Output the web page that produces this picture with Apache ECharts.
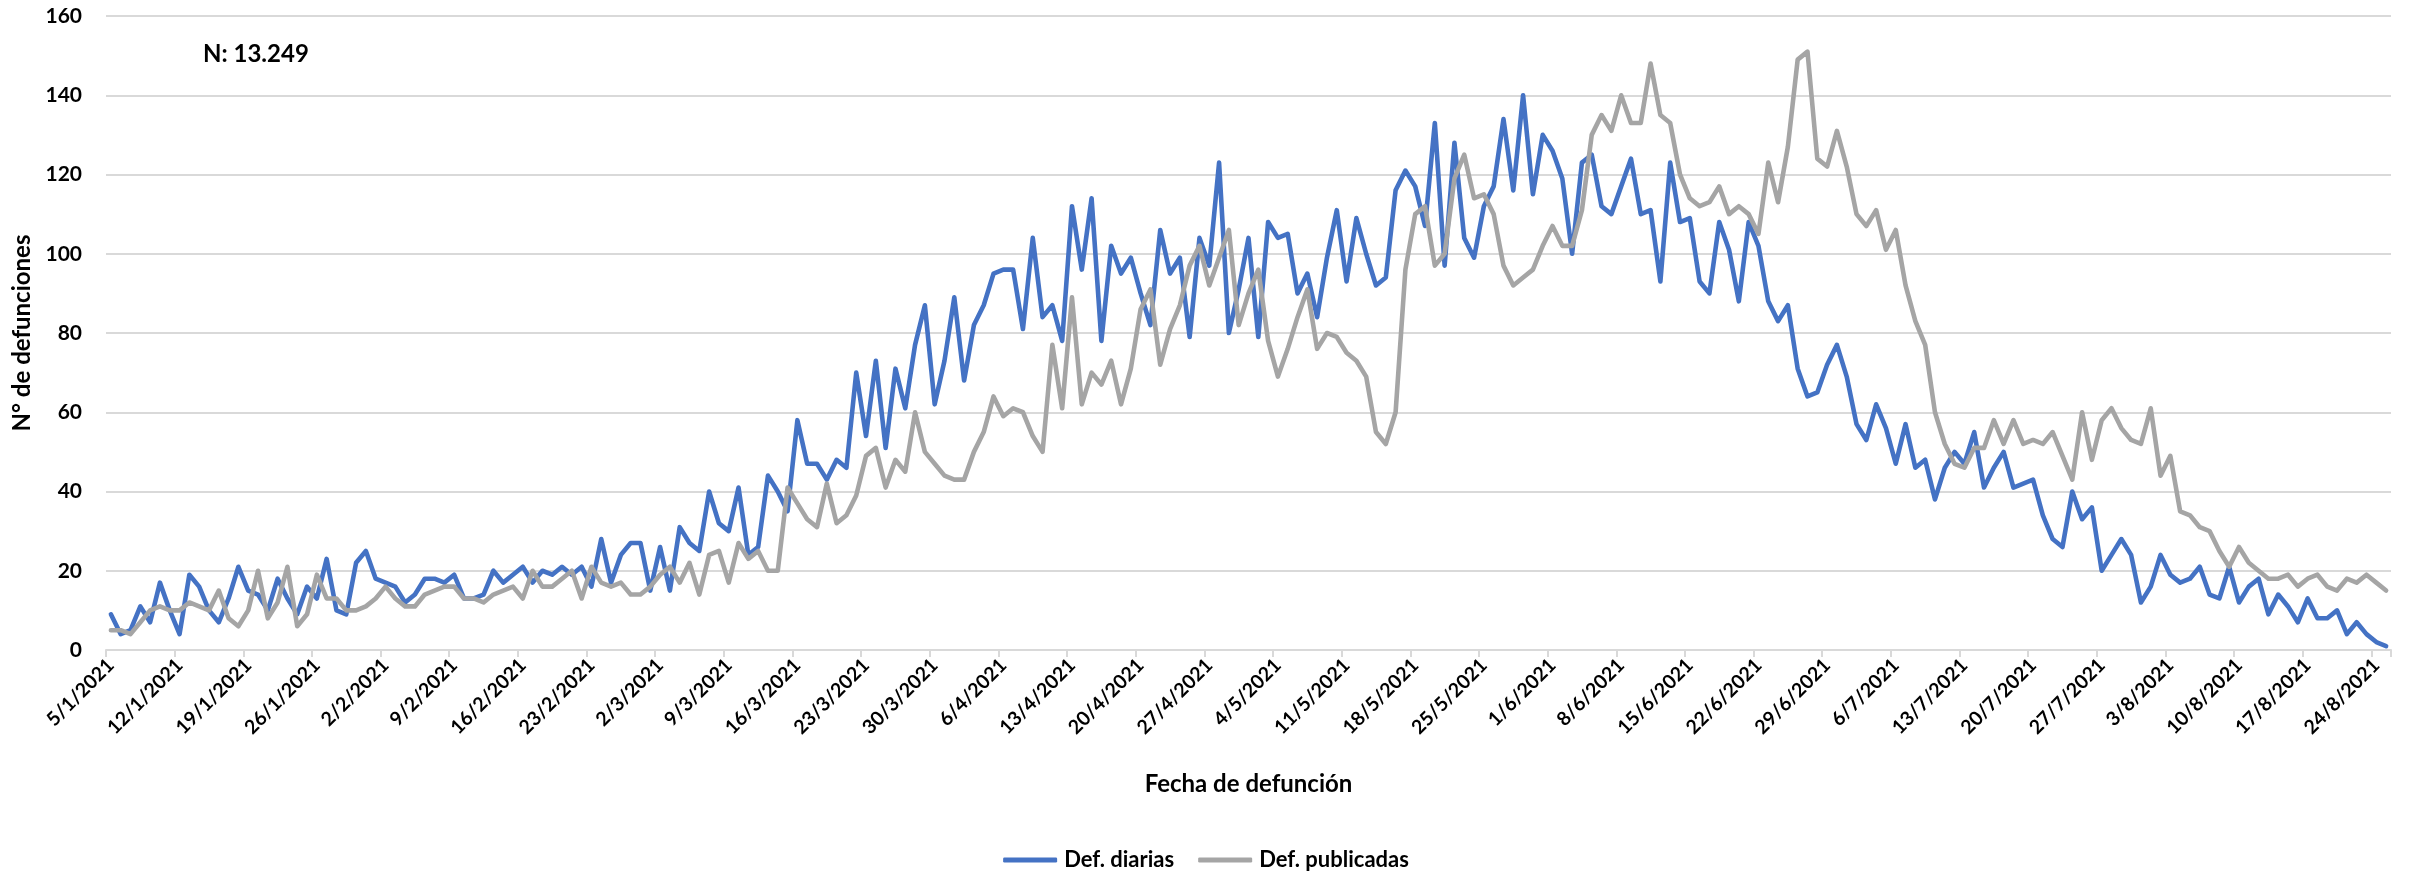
<!DOCTYPE html>
<html>
<head>
<meta charset="utf-8">
<script src="https://cdn.jsdelivr.net/npm/echarts@6/dist/echarts.min.js"></script>
<style>
  html, body { margin: 0; padding: 0; background: #fff; }
  #chart { width: 2412px; height: 872px; }
</style>
</head>
<body>
<div id="chart"></div>
<script>
// First day of the series; one category per day
const startDay = { year: 2021, month: 1, day: 5 };

// Def. diarias (deaths by date of death)
const defDiarias = [
  9, 4, 5, 11, 7, 17, 10, 4, 19, 16, 10, 7, 13, 21, 15, 14, 10, 18, 13, 9,
  16, 13, 23, 10, 9, 22, 25, 18, 17, 16, 12, 14, 18, 18, 17, 19, 13, 13, 14, 20,
  17, 19, 21, 17, 20, 19, 21, 19, 21, 16, 28, 17, 24, 27, 27, 15, 26, 15, 31, 27,
  25, 40, 32, 30, 41, 24, 26, 44, 40, 35, 58, 47, 47, 43, 48, 46, 70, 54, 73, 51,
  71, 61, 77, 87, 62, 73, 89, 68, 82, 87, 95, 96, 96, 81, 104, 84, 87, 78, 112, 96,
  114, 78, 102, 95, 99, 90, 82, 106, 95, 99, 79, 104, 97, 123, 80, 91, 104, 79, 108, 104,
  105, 90, 95, 84, 99, 111, 93, 109, 100, 92, 94, 116, 121, 117, 107, 133, 97, 128, 104, 99,
  112, 117, 134, 116, 140, 115, 130, 126, 119, 100, 123, 125, 112, 110, 117, 124, 110, 111, 93, 123,
  108, 109, 93, 90, 108, 101, 88, 108, 102, 88, 83, 87, 71, 64, 65, 72, 77, 69, 57, 53,
  62, 56, 47, 57, 46, 48, 38, 46, 50, 47, 55, 41, 46, 50, 41, 42, 43, 34, 28, 26,
  40, 33, 36, 20, 24, 28, 24, 12, 16, 24, 19, 17, 18, 21, 14, 13, 21, 12, 16, 18,
  9, 14, 11, 7, 13, 8, 8, 10, 4, 7, 4, 2, 1
];

// Def. publicadas (deaths by date of publication)
const defPublicadas = [
  5, 5, 4, 7, 10, 11, 10, 10, 12, 11, 10, 15, 8, 6, 10, 20, 8, 12, 21, 6,
  9, 19, 13, 13, 10, 10, 11, 13, 16, 13, 11, 11, 14, 15, 16, 16, 13, 13, 12, 14,
  15, 16, 13, 20, 16, 16, 18, 20, 13, 21, 17, 16, 17, 14, 14, 16, 19, 21, 17, 22,
  14, 24, 25, 17, 27, 23, 25, 20, 20, 41, 37, 33, 31, 42, 32, 34, 39, 49, 51, 41,
  48, 45, 60, 50, 47, 44, 43, 43, 50, 55, 64, 59, 61, 60, 54, 50, 77, 61, 89, 62,
  70, 67, 73, 62, 71, 86, 91, 72, 81, 87, 97, 102, 92, 99, 106, 82, 90, 96, 78, 69,
  76, 84, 91, 76, 80, 79, 75, 73, 69, 55, 52, 60, 96, 110, 112, 97, 100, 119, 125, 114,
  115, 110, 97, 92, 94, 96, 102, 107, 102, 102, 111, 130, 135, 131, 140, 133, 133, 148, 135, 133,
  120, 114, 112, 113, 117, 110, 112, 110, 105, 123, 113, 127, 149, 151, 124, 122, 131, 122, 110, 107,
  111, 101, 106, 92, 83, 77, 60, 52, 47, 46, 51, 51, 58, 52, 58, 52, 53, 52, 55, 49,
  43, 60, 48, 58, 61, 56, 53, 52, 61, 44, 49, 35, 34, 31, 30, 25, 21, 26, 22, 20,
  18, 18, 19, 16, 18, 19, 16, 15, 18, 17, 19, 17, 15
];

const seriesNames = ['Def. diarias', 'Def. publicadas'];
const totalLabel = 'N: 13.249';

// Date labels d/m/yyyy, one per day
const fechas = defDiarias.map((_, i) => {
  const d = new Date(startDay.year, startDay.month - 1, startDay.day + i);
  return d.getDate() + '/' + (d.getMonth() + 1) + '/' + d.getFullYear();
});

const FONT = 'Lato, "Open Sans", sans-serif';
const GRID_COLOR = '#d9d9d9';

const chart = echarts.init(document.getElementById('chart'), null, { renderer: 'canvas' });

chart.setOption({
  animation: false,
  backgroundColor: '#ffffff',
  textStyle: { fontFamily: FONT },
  grid: { left: 106, right: 21, top: 16, bottom: 222, containLabel: false },
  graphic: [{
    type: 'text',
    left: 203,
    top: 42,
    style: { text: totalLabel, font: 'bold 24px ' + FONT, fill: '#000' }
  }],
  legend: {
    data: seriesNames,
    left: 'center',
    top: 844,
    icon: 'roundRect',
    itemWidth: 54,
    itemHeight: 5,
    itemGap: 24,
    textStyle: { fontFamily: FONT, fontWeight: 'bold', fontSize: 22, color: '#000', padding: [0, 0, 0, 2] }
  },
  xAxis: {
    type: 'category',
    data: fechas,
    boundaryGap: true,
    name: 'Fecha de defunción',
    nameLocation: 'middle',
    nameGap: 122,
    nameTextStyle: { fontFamily: FONT, fontWeight: 'bold', fontSize: 24, color: '#000' },
    axisLine: { show: true, lineStyle: { color: GRID_COLOR, width: 2 } },
    axisTick: { show: true, interval: 6, length: 7, lineStyle: { color: GRID_COLOR, width: 2 } },
    axisLabel: {
      interval: 6,
      rotate: 45,
      margin: 12,
      fontFamily: FONT,
      fontWeight: 'bold',
      fontSize: 19.5,
      color: '#000'
    },
    splitLine: { show: false }
  },
  yAxis: {
    type: 'value',
    min: 0,
    max: 160,
    interval: 20,
    name: 'N° de defunciones',
    nameLocation: 'middle',
    nameRotate: 90,
    nameGap: 60,
    nameTextStyle: { fontFamily: FONT, fontWeight: 'bold', fontSize: 24, color: '#000' },
    axisLine: { show: false },
    axisTick: { show: false },
    axisLabel: { margin: 24, fontFamily: FONT, fontWeight: 'bold', fontSize: 21, color: '#000' },
    splitLine: { show: true, lineStyle: { color: GRID_COLOR, width: 2 } }
  },
  series: [
    {
      name: seriesNames[0],
      type: 'line',
      data: defDiarias,
      showSymbol: false,
      symbol: 'none',
      color: '#4472c4',
      lineStyle: { color: '#4472c4', width: 4.6, join: 'round', cap: 'round' }
    },
    {
      name: seriesNames[1],
      type: 'line',
      data: defPublicadas,
      showSymbol: false,
      symbol: 'none',
      color: '#a5a5a5',
      lineStyle: { color: '#a5a5a5', width: 4.6, join: 'round', cap: 'round' }
    }
  ]
});
</script>
</body>
</html>
